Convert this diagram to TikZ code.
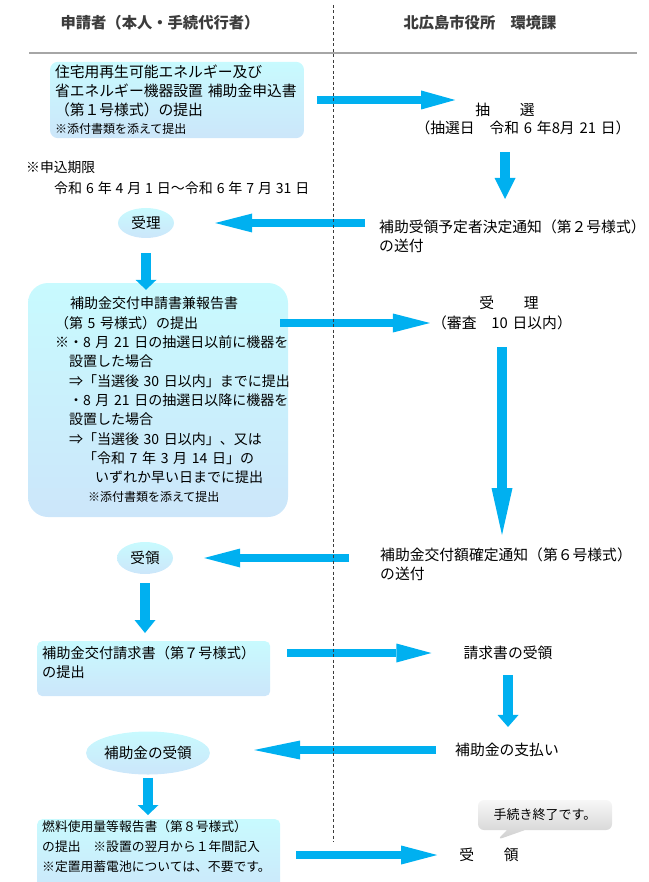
\documentclass[tikz,border=0pt]{standalone}
\usepackage{fontspec}
\setmainfont{Noto Sans CJK JP}
\usetikzlibrary{arrows.meta,shapes.geometric,shapes.callouts}
\definecolor{flowblue}{HTML}{00B0F0}
\definecolor{boxtop}{HTML}{C8FAFE}
\definecolor{boxbot}{HTML}{CCE6FA}
\definecolor{headgray}{HTML}{3C3C3C}
\definecolor{rulegray}{HTML}{A6A6A6}
\newcommand*{\fsz}[2]{\fontsize{#1}{#2}\selectfont}
\newcommand*{\wsp}[1]{\spaceskip=#1\relax}

\begin{document}
\begin{tikzpicture}[x=1pt,y=-1pt,
    txt/.style={inner sep=0pt, font=\fsz{14.8}{18.5}\wsp{4.8pt}},
    head/.style={inner sep=0pt, text=headgray, font=\bfseries\fsz{15.3}{18}},
    flowbox/.style={top color=boxtop, bottom color=boxbot, rounded corners=#1,
      align=left, font=\fsz{14.8}{18.7}},
    flowbox/.default=6pt,
    oval/.style={ellipse, inner sep=0pt, top color=boxtop, bottom color=boxbot,
      font=\fsz{14.6}{18}},
    harrow/.style={draw=flowblue, line width=8pt,
      -{Triangle[length=#1,width=19pt,line width=0pt]}},
    harrow/.default=36pt,
    varrow/.style={draw=flowblue, line width=10pt,
      -{Triangle[length=#1,width=21pt,line width=0pt]}},
    varrow/.default=12pt]
  \useasboundingbox (0,0) rectangle (648,882);

  % headings
  \node[head] (hdL) at (160,23) {申請者（本人・手続代行者）};
  \node[head] (hdR) at (480,23) {北広島市役所　環境課};
  \draw[rulegray, line width=1.5pt] (29,53) -- (637,53);

  % applicant side
  \node[flowbox=8pt, text width=244pt, inner xsep=5pt, minimum height=76pt] (box1) at (177,100) {%
    住宅用再生可能エネルギー及び\\
    省エネルギー機器設置~補助金申込書\\
    （第１号様式）の提出\\
    {\fsz{12}{18.7}※添付書類を添えて提出}};
  \node[txt, anchor=west, font=\fsz{13.8}{17}] (dl1) at (26,167) {※申込期限};
  \node[txt, anchor=west, font=\fsz{14}{17}\wsp{3.9pt}] (dl2) at (54,188)
    {令和 6 年 4 月 1 日～令和 6 年 7 月 31 日};
  \node[oval, minimum width=56pt, minimum height=30pt] (rec1) at (146,223) {受理};
  \node[flowbox=20pt, text width=206pt, inner xsep=27pt, inner ysep=3pt,
    minimum height=234pt, font=\fsz{14}{19.3}] (box2) at (158,400) {%
    \hspace*{15pt}補助金交付申請書兼報告書\\
    （第~5~号様式）の提出\\
    ※・8~月~21~日の抽選日以前に機器を\\
    　設置した場合\\
    　⇒「当選後~30~日以内」までに提出\\
    　・8~月~21~日の抽選日以降に機器を\\
    　設置した場合\\
    　⇒「当選後~30~日以内」、又は\\
    　　「令和~7~年~3~月~14~日」の\\
    \hspace*{40pt}いずれか早い日までに提出\\
    \hspace*{33pt}{\fsz{12}{19.3}※添付書類を添えて提出}};
  \node[oval, minimum width=56pt, minimum height=32pt] (rcv) at (145,558) {受領};
  \node[flowbox=5pt, anchor=north west, text width=223pt, inner xsep=5pt,
    inner ysep=5pt, text depth=32.7pt, font=\fsz{14.2}{19}] (box3) at (37,641)
    {補助金交付請求書（第７号様式）\\の提出};
  \node[oval, minimum width=112pt, minimum height=43pt] (pay) at (148,753) {補助金の受領};
  \node[flowbox=5pt, anchor=north west, text width=233pt, inner xsep=5pt,
    inner ysep=1.5pt, text depth=64pt, font=\fsz{12.8}{20}] (box4) at (37,819) {%
    燃料使用量等報告書（第８号様式）\\
    の提出　※設置の翌月から１年間記入\\
    ※定置用蓄電池については、不要です。};

  % city office side
  \node[txt] (sel1) at (505,110) {抽　　選};
  \node[txt] (sel2) at (523,128) {（抽選日　令和 6 年8月 21 日）};
  \node[txt, anchor=north west, align=left] (not2) at (379,220)
    {補助受領予定者決定通知（第２号様式）\\の送付};
  \node[txt] (acc1) at (509,303) {受　　理};
  \node[txt] (acc2) at (502,323) {（審査　10 日以内）};
  \node[txt, anchor=north west, align=left] (not6) at (380,548)
    {補助金交付額確定通知（第６号様式）\\の送付};
  \node[txt] (req) at (508,653) {請求書の受領};
  \node[txt] (paid) at (507,750) {補助金の支払い};
  \node[txt] (fin) at (489,855) {受　　領};
  \node[rectangle callout, rounded corners=6pt, top color=gray!6, bottom color=gray!38,
    minimum width=134pt, minimum height=30pt, inner sep=0pt, font=\fsz{13}{16},
    callout pointer width=18pt,
    callout absolute pointer={([shift={(8,-8)}]fin.north)}] (done) at (545,815)
    {手続き終了です。};

  % flow
  \draw[harrow=34pt, shorten <=13pt, shorten >=20pt] (box1.east) -- (box1.east -| sel1.west);
  \draw[varrow=21pt, shorten <=17pt, shorten >=21pt] (sel1.south |- sel2.south) -- (sel1.south |- not2.north);
  \draw[harrow=37pt, shorten <=14pt, shorten >=41pt] (not2.west |- rec1.east) -- (rec1.east);
  \draw[varrow=10pt, shorten <=15pt, shorten >=-7pt] (rec1.south) -- (rec1.south |- box2.north);
  \draw[harrow=37pt, shorten <=-8pt, shorten >=2pt] (box2.east |- acc2.west) -- (acc2.west);
  \draw[varrow=47pt, shorten <=17pt, shorten >=13pt] (acc2.south) -- (acc2.south |- not6.north);
  \draw[harrow, shorten <=31pt, shorten >=31pt] (not6.west |- rcv.east) -- (rcv.east);
  \draw[varrow=13pt, shorten <=9pt, shorten >=8pt] (rcv.south) -- (rcv.south |- box3.north);
  \draw[harrow=35pt, shorten <=17pt, shorten >=32pt] (box3.east |- req.west) -- (req.west);
  \draw[varrow, shorten <=15pt, shorten >=16pt] (req.south) -- (req.south |- paid.north);
  \draw[harrow=46pt, shorten <=19pt, shorten >=44pt] (paid.west) -- (paid.west -| pay.east);
  \draw[varrow=10pt, shorten <=3pt, shorten >=4pt] (pay.south) -- (pay.south |- box4.north);
  \draw[harrow, shorten <=16pt, shorten >=22pt] (box4.east |- fin.west) -- (fin.west);

  % lane divider
  \draw[headgray, line width=0.8pt, dash pattern=on 3pt off 2.5pt] (333,5) -- (333,842);
\end{tikzpicture}
\end{document}
